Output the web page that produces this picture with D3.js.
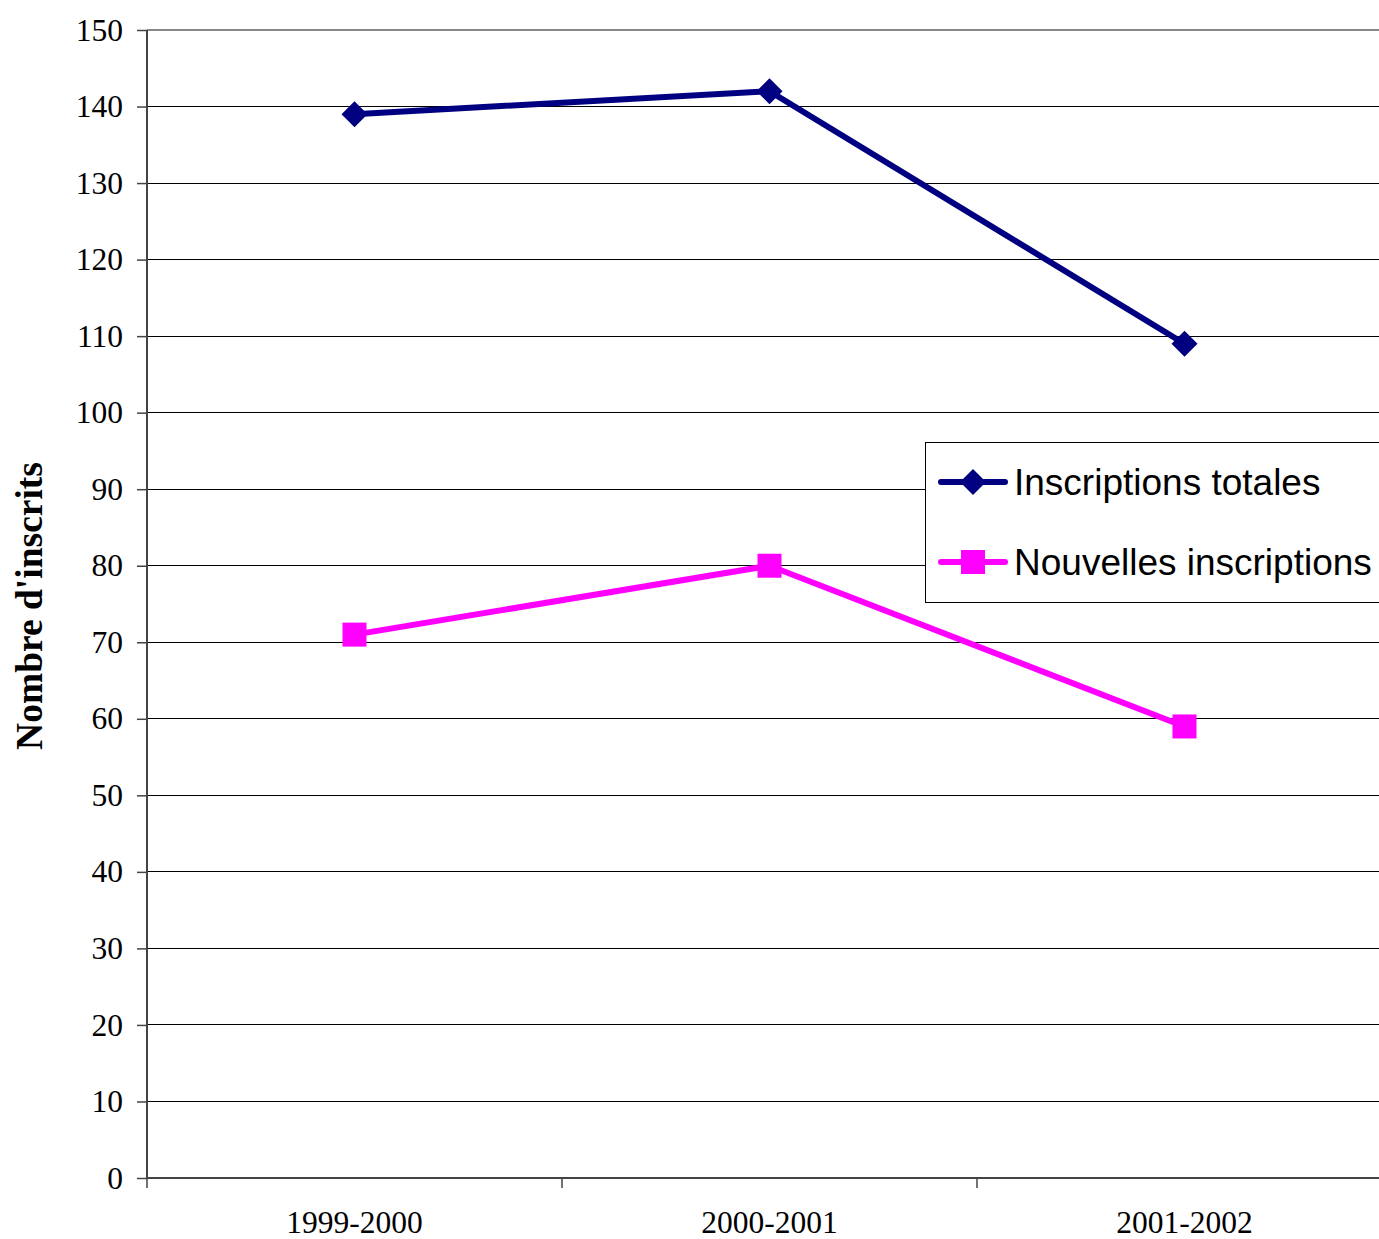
<!DOCTYPE html>
<html><head><meta charset="utf-8">
<script src="https://cdn.jsdelivr.net/npm/d3@7"></script>
<style>body{margin:0;background:#fff}svg{display:block}</style>
</head><body>
<script>
const categories = ["1999-2000", "2000-2001", "2001-2002"];
const totalValues = [139, 142, 109];
const newValues = [71, 80, 59];
const yTicks = [0,10,20,30,40,50,60,70,80,90,100,110,120,130,140,150];
const seriesNames = ["Inscriptions totales", "Nouvelles inscriptions"];

const W = 1379, H = 1239;
const L = 147, T = 30, B = 1178, R = 147 + 3*415;
const svg = d3.select("body").append("svg").attr("width", W).attr("height", H);

const x = d3.scaleBand().domain(categories).range([L, R]);
const y = d3.scaleLinear().domain([0,150]).range([B, T]);

// gridlines
svg.append("g").selectAll("line").data(yTicks.filter(d=>d>0)).join("line")
  .attr("x1", L).attr("x2", R).attr("y1", d=>y(d)).attr("y2", d=>y(d))
  .attr("stroke", d=> d===150 ? "#888" : "#000").attr("stroke-width", d=> d===150?2:1)
  .attr("shape-rendering","crispEdges");

// y axis
const yAxis = d3.axisLeft(y).tickValues(yTicks).tickSize(10).tickPadding(14);
const gy = svg.append("g").attr("transform", `translate(${L},0)`).call(yAxis);
gy.select(".domain").attr("stroke","#444").attr("stroke-width",2).attr("d", `M0,${T}V${B}`);
gy.selectAll(".tick line").attr("stroke","#444").attr("stroke-width",1.5);
gy.selectAll(".tick text").attr("font-family","Liberation Serif, Times New Roman, serif").attr("font-size",31.5).attr("fill","#000");

// x axis
const xAxis = d3.axisBottom(x).tickSize(0).tickPadding(33);
const gx = svg.append("g").attr("transform", `translate(0,${B})`).call(xAxis);
gx.select(".domain").attr("stroke","#444").attr("stroke-width",2).attr("d", `M${L},0H${R}`);
gx.selectAll(".tick text").attr("font-family","Liberation Serif, Times New Roman, serif").attr("font-size",31.5).attr("fill","#000");
// category boundary ticks
svg.append("g").selectAll("line").data(categories).join("line")
  .attr("x1", d=>x(d)).attr("x2", d=>x(d)).attr("y1", B).attr("y2", B+10)
  .attr("stroke","#444").attr("stroke-width",1.5);

// y title
svg.append("text").attr("transform", `translate(42,606) rotate(-90)`)
  .attr("text-anchor","middle").attr("font-family","Liberation Serif, Times New Roman, serif")
  .attr("font-weight","bold").attr("font-size",37.5).text("Nombre d'inscrits");

const cx = d => x(d) + x.bandwidth()/2;
const line = d3.line().x(d=>cx(d.c)).y(d=>y(d.v));
const totalData = categories.map((c,i)=>({c, v: totalValues[i]}));
const newData = categories.map((c,i)=>({c, v: newValues[i]}));

const navy = "#000080", magenta = "#FF00FF";
svg.append("path").datum(totalData).attr("d", line).attr("fill","none").attr("stroke", navy).attr("stroke-width",6);
svg.append("path").datum(newData).attr("d", line).attr("fill","none").attr("stroke", magenta).attr("stroke-width",6);

const diamond = (px,py,s) => `M${px},${py-s}L${px+s},${py}L${px},${py+s}L${px-s},${py}Z`;
svg.append("g").selectAll("path").data(totalData).join("path")
  .attr("d", d=>diamond(cx(d.c), y(d.v), 13)).attr("fill", navy);
svg.append("g").selectAll("rect").data(newData).join("rect")
  .attr("x", d=>cx(d.c)-12).attr("y", d=>y(d.v)-12).attr("width",24).attr("height",24).attr("fill", magenta);

// legend
const lg = svg.append("g");
lg.append("rect").attr("x",925.5).attr("y",442.5).attr("width",500).attr("height",160)
  .attr("fill","#fff").attr("stroke","#000").attr("stroke-width",1);
const rows = [{name: seriesNames[0], color: navy, y: 482, m: "d"}, {name: seriesNames[1], color: magenta, y: 562, m: "s"}];
rows.forEach(r => {
  lg.append("line").attr("x1",941).attr("x2",1005).attr("y1",r.y).attr("y2",r.y)
    .attr("stroke", r.color).attr("stroke-width",6).attr("stroke-linecap","round");
  if (r.m==="d") lg.append("path").attr("d", diamond(973, r.y, 13)).attr("fill", r.color);
  else lg.append("rect").attr("x",961).attr("y",r.y-12).attr("width",24).attr("height",24).attr("fill", r.color);
  lg.append("text").attr("x",1014).attr("y",r.y+13).attr("font-family","Liberation Sans, Arial, sans-serif")
    .attr("font-size",37).attr("fill","#000").text(r.name);
});
</script>
</body></html>
